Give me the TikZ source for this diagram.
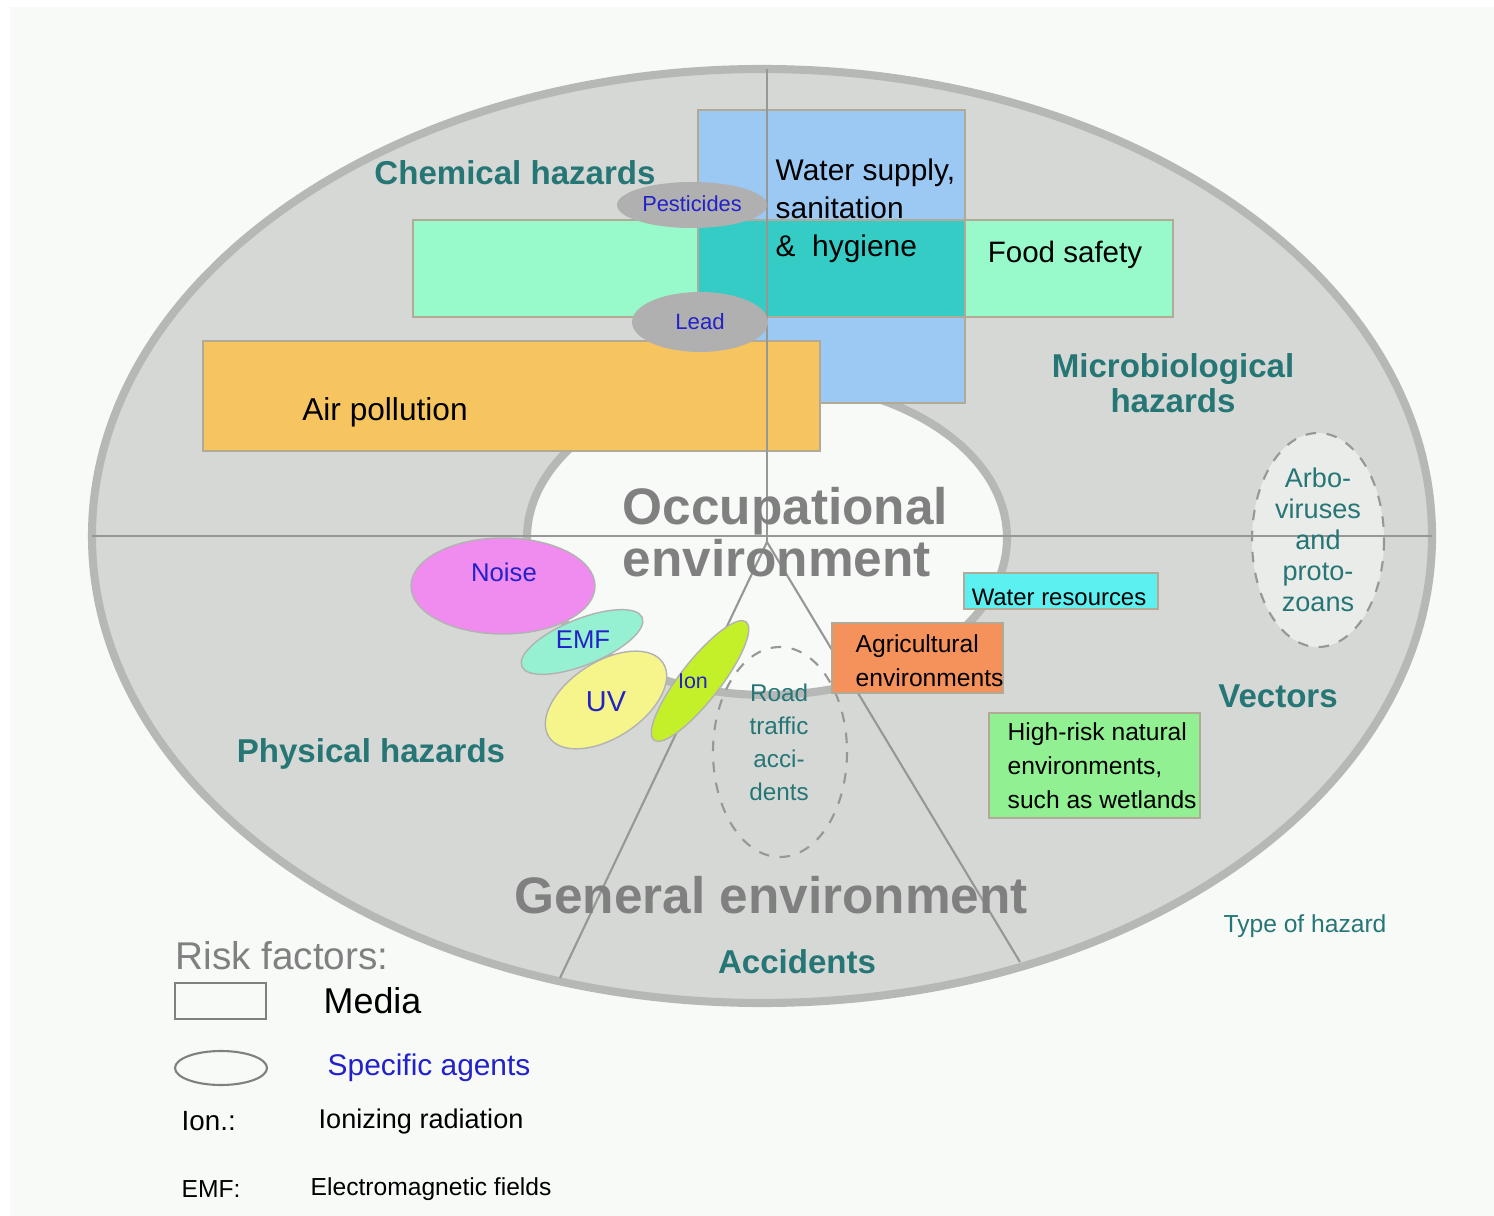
\documentclass[tikz,border=0pt]{standalone}
\usepackage{fontspec}
\setmainfont{Liberation Sans}
\definecolor{panel}{RGB}{247,250,247}
\definecolor{dotgrey}{RGB}{214,216,214}
\definecolor{rimgrey}{RGB}{182,184,182}
\definecolor{linegrey}{RGB}{150,152,150}
\definecolor{hazardc}{RGB}{38,118,118}
\definecolor{agentc}{RGB}{34,34,200}
\definecolor{envgrey}{RGB}{128,128,128}
\definecolor{waterc}{RGB}{156,200,244}
\definecolor{foodc}{RGB}{152,250,202}
\definecolor{washc}{RGB}{52,204,196}
\definecolor{airc}{RGB}{247,197,96}
\definecolor{chemc}{RGB}{176,176,176}
\definecolor{noisec}{RGB}{240,140,240}
\definecolor{emfc}{RGB}{150,240,210}
\definecolor{uvc}{RGB}{245,245,140}
\definecolor{ionc}{RGB}{195,240,40}
\definecolor{resc}{RGB}{92,240,240}
\definecolor{agric}{RGB}{245,145,90}
\definecolor{wetc}{RGB}{145,240,145}
\definecolor{edgec}{RGB}{178,170,150}
\begin{document}
\begin{tikzpicture}[x=0.01cm,y=-0.01cm,
    hazard/.style={text=hazardc,font=\fontsize{9.4}{9.8}\selectfont\bfseries},
    env/.style={text=envgrey,font=\fontsize{14.6}{14.8}\selectfont\bfseries},
    agent/.style={text=agentc},
    flush/.style={anchor=west,inner xsep=0pt},
    media/.style={draw=edgec,line width=0.6pt},
    thinline/.style={draw=linegrey,line width=0.6pt},
    vague/.style={draw=linegrey,dashed,line width=0.6pt}]
\useasboundingbox (0,0) rectangle (1494,1216);
\fill[white] (0,0) rectangle (1494,1216);
\fill[panel] (10,7) rectangle (1494,1216);
\filldraw[fill=dotgrey,draw=rimgrey,line width=2.3pt] (762,536) ellipse [x radius=670,y radius=467];
\filldraw[fill=panel,draw=rimgrey,line width=2.3pt] (767,538) ellipse [x radius=240,y radius=157];
\fill[fill=panel!60!dotgrey] (1318,540) ellipse [x radius=66,y radius=107];
\filldraw[media,fill=waterc] (698,110) rectangle (965,403);
\filldraw[media,fill=foodc] (413,220) rectangle (1173,317);
\filldraw[media,fill=washc] (698,220) rectangle (965,317);
\filldraw[media,fill=airc] (203,341) rectangle (820,451);
\coordinate (apex) at (767,542);
\draw[thinline] (92,536) -- (1432,536);
\draw[thinline] (767,69) -- (apex);
\draw[thinline] (apex) -- (560,978);
\draw[thinline] (apex) -- (1020,962);
\fill[chemc] (692,205) ellipse [x radius=75,y radius=23];
\fill[chemc] (700,322) ellipse [x radius=68,y radius=30];
\filldraw[draw=gray!60,fill=noisec] (503,586) ellipse [x radius=92,y radius=48];
\filldraw[draw=gray!60,fill=emfc,rotate around={22:(582,642)}] (582,642) ellipse [x radius=65,y radius=23];
\filldraw[draw=gray!60,fill=uvc,rotate around={33:(606,700)}] (606,700) ellipse [x radius=68,y radius=38];
\filldraw[draw=gray!60,fill=ionc,rotate around={52:(700,681)}] (700,681) ellipse [x radius=75,y radius=20];
\draw[vague] (780,752) ellipse [x radius=67,y radius=105];
\draw[vague] (1318,540) ellipse [x radius=66,y radius=107];
\filldraw[media,fill=resc] (964,573) rectangle (1158,609);
\filldraw[media,fill=agric] (832,623) rectangle (1003,693);
\filldraw[media,fill=wetc] (989,713) rectangle (1200,818);

\node[hazard] (chem) at (515,173) {Chemical hazards};
\node[hazard,align=center] (micro) at (1173,383) {Microbiological\\hazards};
\node[hazard] (vect) at (1278,696) {Vectors};
\node[hazard] (phys) at (371,754) {Physical hazards};
\node[hazard] (acc) at (797,962) {Accidents};
\node[text=hazardc,font=\fontsize{7}{8}\selectfont] (type) at (1305,926) {Type of hazard};
\node[env,align=left,flush] (occ) at (622,532) {Occupational\\environment};
\node[env] (gen) at (771,895) {General environment};

\node[agent,font=\fontsize{6.2}{7}\selectfont] (pest) at (692,204) {Pesticides};
\node[agent,font=\fontsize{6.3}{7}\selectfont] (lead) at (700,322) {Lead};
\node[agent,font=\fontsize{7.3}{8}\selectfont] (noise) at (504,572) {Noise};
\node[agent,font=\fontsize{7.3}{8}\selectfont] (emf) at (583,640) {EMF};
\node[agent,font=\fontsize{8.2}{9}\selectfont] (uv) at (606,702) {UV};
\node[agent,font=\fontsize{6.1}{7}\selectfont] (ion) at (693,681) {Ion};
\node[text=hazardc,align=center,font=\fontsize{6.9}{9.4}\selectfont] (road) at (779,742) {Road\\traffic\\acci-\\dents};
\node[text=hazardc,align=center,font=\fontsize{7.7}{8.8}\selectfont] (arbo) at (1318,540) {Arbo-\\viruses\\and\\proto-\\zoans};

\node[align=left,flush,font=\fontsize{8.5}{10.8}\selectfont] (wash) at (775,211) {Water supply,\\sanitation\\\&~~hygiene};
\node[font=\fontsize{8.4}{9}\selectfont] (food) at (1065,255) {Food safety};
\node[font=\fontsize{9}{10}\selectfont] (air) at (385,412) {Air pollution};
\node[font=\fontsize{6.8}{8}\selectfont] (res) at (1059,597) {Water resources};
\node[align=left,flush,font=\fontsize{7}{9.7}\selectfont] (agri) at (855,661) {Agricultural\\environments};
\node[align=left,flush,font=\fontsize{7}{9.7}\selectfont] (wet) at (1007,766) {High-risk natural\\environments,\\such as wetlands};

\node[text=envgrey,flush,font=\fontsize{11}{12}\selectfont] (risk) at (175,956) {Risk factors:};
\draw[draw=envgrey,line width=0.6pt] (175,983) rectangle (266,1019);
\node[flush,font=\fontsize{10.2}{11}\selectfont] (media) at (323,1001) {Media};
\draw[draw=envgrey,line width=0.6pt] (221,1068) ellipse [x radius=46,y radius=17];
\node[agent,flush,font=\fontsize{8.5}{9}\selectfont] (spec) at (327,1068) {Specific agents};
\node[flush,font=\fontsize{7.9}{9}\selectfont] (ionkey) at (181,1121) {Ion.:};
\node[flush,font=\fontsize{7.7}{9}\selectfont] (iondef) at (318,1121) {Ionizing radiation};
\node[flush,font=\fontsize{7}{8}\selectfont] (emfkey) at (181,1189) {EMF:};
\node[flush,font=\fontsize{7}{8}\selectfont] (emfdef) at (310,1189) {Electromagnetic fields};
\end{tikzpicture}
\end{document}
